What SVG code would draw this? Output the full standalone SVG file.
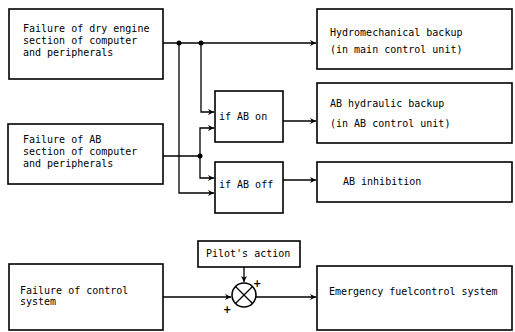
<svg xmlns="http://www.w3.org/2000/svg" width="515" height="332" viewBox="0 0 515 332">
<defs>
<marker id="ah" viewBox="0 0 10 10" refX="10" refY="5" markerWidth="7" markerHeight="6" orient="auto" markerUnits="userSpaceOnUse">
<path d="M0,0 L10,5 L0,10 L3,5 Z" fill="#000"/>
</marker>
<style>
.box{fill:#fff;stroke:#000;stroke-width:1.6}
.ln{fill:none;stroke:#000;stroke-width:1.3}
.t{font-family:"DejaVu Sans Mono","Liberation Mono",monospace;font-size:10px;fill:#000}
.pl{font-family:"DejaVu Sans","Liberation Sans",sans-serif;font-size:10px;font-weight:bold;fill:#000}
</style>
</defs>
<rect width="515" height="332" fill="#fff"/>
<g id="connectors">
<path class="ln" d="M163,43 H316" marker-end="url(#ah)"/>
<path class="ln" d="M179,43 V193 H214" marker-end="url(#ah)"/>
<path class="ln" d="M201,43 V112 H214" marker-end="url(#ah)"/>
<path class="ln" d="M163,156 H200"/>
<path class="ln" d="M200,156 V128 H214" marker-end="url(#ah)"/>
<path class="ln" d="M200,156 V178 H214" marker-end="url(#ah)"/>
<path class="ln" d="M283,121 H316" marker-end="url(#ah)"/>
<path class="ln" d="M283,180 H316" marker-end="url(#ah)"/>
<path class="ln" d="M163,297 H231" marker-end="url(#ah)"/>
<path class="ln" d="M244,267 V282" marker-end="url(#ah)"/>
<path class="ln" d="M256,297 H316" marker-end="url(#ah)"/>
<circle cx="179" cy="43" r="2.5" fill="#000"/>
<circle cx="201" cy="43" r="2.5" fill="#000"/>
<circle cx="200" cy="156" r="2.5" fill="#000"/>
</g>
<g id="n_dry">
<rect class="box" x="9" y="9" width="154" height="70"/>
<text class="t" x="23" y="32">Failure of dry engine</text>
<text class="t" x="23" y="44">section of computer</text>
<text class="t" x="23" y="56">and peripherals</text>
</g>
<g id="n_ab">
<rect class="box" x="8" y="124" width="155" height="60"/>
<text class="t" x="23" y="143">Failure of AB</text>
<text class="t" x="23" y="155">section of computer</text>
<text class="t" x="23" y="167">and peripherals</text>
</g>
<g id="n_hydro">
<rect class="box" x="317" y="9" width="195" height="60"/>
<text class="t" x="330" y="36">Hydromechanical backup</text>
<text class="t" x="330" y="53">(in main control unit)</text>
</g>
<g id="n_abon">
<rect class="box" x="215" y="91" width="68" height="51"/>
<text class="t" x="219" y="120">if AB on</text>
</g>
<g id="n_aboff">
<rect class="box" x="215" y="162" width="68" height="51"/>
<text class="t" x="219" y="188">if AB off</text>
</g>
<g id="n_abhyd">
<rect class="box" x="317" y="83" width="195" height="60"/>
<text class="t" x="330" y="107">AB hydraulic backup</text>
<text class="t" x="330" y="127">(in AB control unit)</text>
</g>
<g id="n_abinh">
<rect class="box" x="317" y="162" width="195" height="40"/>
<text class="t" x="343" y="185">AB inhibition</text>
</g>
<g id="n_pilot">
<rect class="box" x="198" y="241" width="102" height="26"/>
<text class="t" x="206" y="257">Pilot's action</text>
</g>
<g id="n_sum">
<circle cx="244" cy="295" r="12" fill="#fff" stroke="#000" stroke-width="1.6"/>
<path class="ln" d="M235.5,286.5 L252.5,303.5 M252.5,286.5 L235.5,303.5" stroke-width="1.6"/>
<text class="pl" x="253" y="287">+</text>
<text class="pl" x="223" y="313">+</text>
</g>
<g id="n_fail">
<rect class="box" x="9" y="264" width="154" height="66"/>
<text class="t" x="20" y="294">Failure of control</text>
<text class="t" x="20" y="305">system</text>
</g>
<g id="n_emerg">
<rect class="box" x="317" y="266" width="195" height="64"/>
<text class="t" x="329" y="295">Emergency fuelcontrol system</text>
</g>
</svg>
